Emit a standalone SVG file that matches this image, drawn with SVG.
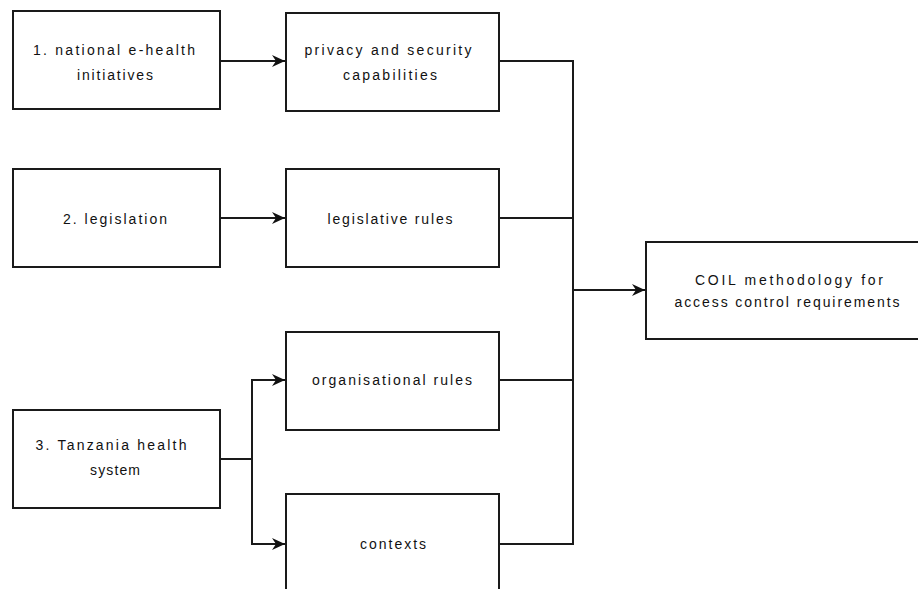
<svg xmlns="http://www.w3.org/2000/svg" width="918" height="589" viewBox="0 0 918 589">
  <style>
    .box { fill: #ffffff; stroke: #1a1a1a; stroke-width: 2; }
    .lbl { font-family: "Liberation Sans", Arial, sans-serif; font-size: 14px; fill: #111111; text-anchor: middle; }
    .wire { fill: none; stroke: #1a1a1a; stroke-width: 2; }
  </style>
  <defs>
    <marker id="arrow" markerUnits="userSpaceOnUse" markerWidth="14" markerHeight="12" refX="13" refY="6" orient="auto">
      <path d="M0,0 L13,6 L0,12 L4,6 z" fill="#111111"/>
    </marker>
  </defs>
  <rect width="918" height="589" fill="#ffffff"/>

  <g id="connectors">
    <line class="wire" x1="220" y1="61" x2="285" y2="61" marker-end="url(#arrow)"/>
    <line class="wire" x1="220" y1="218" x2="285" y2="218" marker-end="url(#arrow)"/>
    <polyline class="wire" points="220,459 252,459"/>
    <polyline class="wire" points="252,380 252,544"/>
    <line class="wire" x1="251" y1="380" x2="285" y2="380" marker-end="url(#arrow)"/>
    <line class="wire" x1="251" y1="544" x2="285" y2="544" marker-end="url(#arrow)"/>
    <polyline class="wire" points="499,61 573,61 573,544 499,544"/>
    <line class="wire" x1="499" y1="218" x2="573" y2="218"/>
    <line class="wire" x1="499" y1="380" x2="573" y2="380"/>
    <line class="wire" x1="573" y1="290" x2="645" y2="290" marker-end="url(#arrow)"/>
  </g>

  <g id="national-ehealth">
    <rect class="box" x="13" y="11" width="207" height="98"/>
    <text class="lbl" x="114" y="55" textLength="162" lengthAdjust="spacing">1. national e-health</text>
    <text class="lbl" x="115" y="80" textLength="76" lengthAdjust="spacing">initiatives</text>
  </g>

  <g id="privacy-security">
    <rect class="box" x="286" y="13" width="213" height="98"/>
    <text class="lbl" x="388" y="55" textLength="167" lengthAdjust="spacing">privacy and security</text>
    <text class="lbl" x="390" y="80" textLength="94" lengthAdjust="spacing">capabilities</text>
  </g>

  <g id="legislation">
    <rect class="box" x="13" y="169" width="207" height="98"/>
    <text class="lbl" x="115" y="224" textLength="104" lengthAdjust="spacing">2. legislation</text>
  </g>

  <g id="legislative-rules">
    <rect class="box" x="286" y="169" width="213" height="98"/>
    <text class="lbl" x="390" y="224" textLength="125" lengthAdjust="spacing">legislative rules</text>
  </g>

  <g id="coil">
    <rect class="box" x="646" y="242" width="280" height="97"/>
    <text class="lbl" x="789" y="285" textLength="188" lengthAdjust="spacing">COIL methodology for</text>
    <text class="lbl" x="787" y="307" textLength="225" lengthAdjust="spacing">access control requirements</text>
  </g>

  <g id="organisational-rules">
    <rect class="box" x="286" y="332" width="213" height="98"/>
    <text class="lbl" x="392" y="385" textLength="160" lengthAdjust="spacing">organisational rules</text>
  </g>

  <g id="tanzania-health-system">
    <rect class="box" x="13" y="410" width="207" height="98"/>
    <text class="lbl" x="111" y="450" textLength="151" lengthAdjust="spacing">3. Tanzania health</text>
    <text class="lbl" x="115" y="475" textLength="50" lengthAdjust="spacing">system</text>
  </g>

  <g id="contexts">
    <rect class="box" x="286" y="494" width="213" height="110"/>
    <text class="lbl" x="393" y="549" textLength="66" lengthAdjust="spacing">contexts</text>
  </g>
</svg>
